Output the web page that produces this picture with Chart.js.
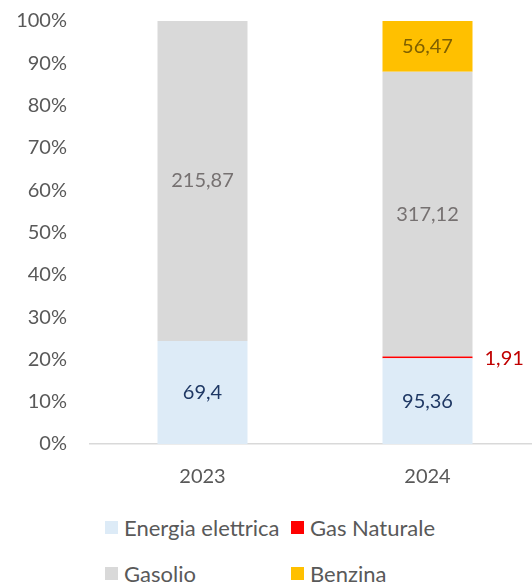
<!DOCTYPE html>
<html><head><meta charset="utf-8">
<script src="https://cdn.jsdelivr.net/npm/chart.js@4/dist/chart.umd.min.js"></script>
<style>
html,body{margin:0;padding:0;background:#fff;overflow:hidden;width:532px;height:585px;}
#wrap{position:absolute;left:0;top:-14px;width:540px;height:514px;}
#legend{position:absolute;left:0;top:500px;width:532px;height:85px;font-family:Lato,"Liberation Sans",sans-serif;font-size:22px;color:#595959;}
.li{position:absolute;display:flex;align-items:center;white-space:nowrap;}
.sw{width:13px;height:13px;margin-right:6px;display:inline-block;}
</style></head>
<body>
<div id="wrap"><canvas id="c" width="540" height="514"></canvas></div>
<div id="legend"></div>
<script>
const categories = ["2023", "2024"];
const seriesNames = ["Energia elettrica", "Gas Naturale", "Gasolio", "Benzina"];
const energiaElettrica = [69.4, 95.36];
const gasNaturale = [null, 1.91];
const gasolio = [215.87, 317.12];
const benzina = [null, 56.47];
const yTicks = [0,10,20,30,40,50,60,70,80,90,100];

const colors = ["#DDEBF7", "#FF0000", "#D9D9D9", "#FFC000"];
const labelColors = ["#1F3864", "#C00000", "#767171", "#7F6000"];
const raw = [energiaElettrica, gasNaturale, gasolio, benzina];
const totals = categories.map((_, i) => raw.reduce((s, a) => s + (a[i] || 0), 0));
const pct = raw.map(a => a.map((v, i) => v == null ? null : v / totals[i] * 100));

const FONT = 'Lato, "Liberation Sans", sans-serif';

const labelPlugin = {
  id: 'vals',
  afterDatasetsDraw(chart) {
    const ctx = chart.ctx;
    ctx.save();
    ctx.font = '20px ' + FONT;
    ctx.textBaseline = 'middle';
    chart.data.datasets.forEach((ds, di) => {
      const meta = chart.getDatasetMeta(di);
      meta.data.forEach((bar, i) => {
        const v = raw[di][i];
        if (v == null) return;
        const txt = v.toString().replace('.', ',');
        ctx.fillStyle = labelColors[di];
        if (di === 1) {
          ctx.textAlign = 'left';
          ctx.fillText(txt, bar.x + bar.width / 2 + 12, (bar.y + bar.base) / 2 + 1);
        } else {
          ctx.textAlign = 'center';
          ctx.fillText(txt, bar.x, (bar.y + bar.base) / 2);
        }
      });
    });
    ctx.restore();
  }
};

new Chart(document.getElementById('c'), {
  type: 'bar',
  data: {
    labels: categories,
    datasets: seriesNames.map((n, i) => ({
      label: n, data: pct[i], backgroundColor: colors[i], borderWidth: 0,
      categoryPercentage: 1, barPercentage: 0.4
    }))
  },
  options: {
    responsive: false, animation: false,
    layout: { padding: { top: 8, right: 0, left: 0, bottom: 0 } },
    plugins: { legend: { display: false }, tooltip: { enabled: false } },
    scales: {
      x: {
        stacked: true,
        grid: { display: false, drawTicks: false },
        border: { display: true, color: '#D9D9D9', width: 1.5 },
        ticks: { color: '#595959', font: { family: FONT, size: 20 }, padding: 21 },
        afterFit(s) { s.height = 56; }
      },
      y: {
        stacked: true, min: 0, max: 100,
        afterBuildTicks(s) { s.ticks = yTicks.map(v => ({ value: v })); },
        grid: { display: false, drawTicks: false },
        border: { display: false },
        ticks: { color: '#595959', font: { family: FONT, size: 20 }, padding: 23,
          callback: v => v + '%' },
        afterFit(s) { s.width = 90; }
      }
    }
  },
  plugins: [labelPlugin]
});

const leg = document.getElementById('legend');
const pos = [[105, 28], [291, 28], [105, 74], [291, 74]];
seriesNames.forEach((n, i) => {
  const d = document.createElement('div');
  d.className = 'li';
  d.style.left = pos[i][0] + 'px';
  d.style.top = (pos[i][1] - 14) + 'px';
  d.innerHTML = '<span class="sw" style="background:' + colors[i] + '"></span><span>' + n + '</span>';
  leg.appendChild(d);
});
</script>
</body></html>
